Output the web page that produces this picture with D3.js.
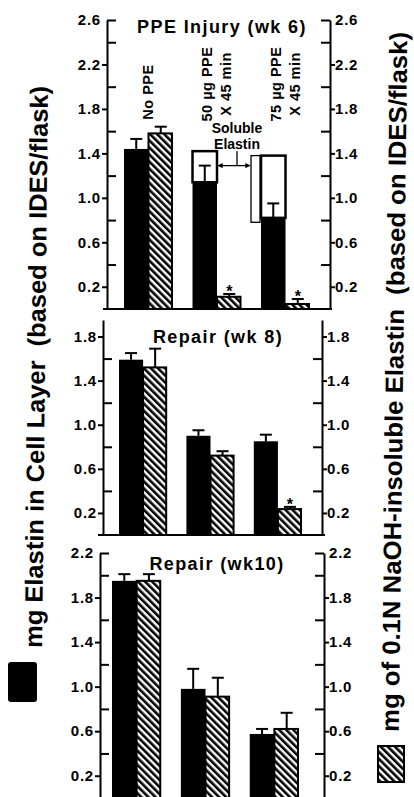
<!DOCTYPE html>
<html>
<head>
<meta charset="utf-8">
<style>
  body { margin: 0; background: #fff; }
  svg { display: block; font-family: "Liberation Sans", Arial, Helvetica, sans-serif; font-weight: bold; }
  .axis text { font-size: 15px; letter-spacing: 0.8px; font-weight: bold; fill: #000; }
  .axis path, .axis line { stroke: #000; stroke-width: 2; }
</style>
</head>
<body>
<svg id="chart" width="414" height="797"></svg>
<script src="https://cdn.jsdelivr.net/npm/d3@7"></script>
<script>
// categories
var groups = ["No PPE", "50 µg PPE|X 45 min", "75 µg PPE|X 45 min"];

// week 6 (PPE injury)
var wk6Cell = [1.44, 1.14, 0.82];
var wk6CellSE = [0.09, 0.15, 0.13];
var wk6Insol = [1.58, 0.11, 0.045];
var wk6InsolSE = [0.06, 0.025, 0.045];
var wk6Soluble = [null, 1.42, 1.38];   // top of open "soluble elastin" box
var wk6SolubleLow = [null, null, 0.78]; // bottom of the narrow offset box
var wk6Star = [false, true, true];

// week 8 (repair)
var wk8Cell = [1.59, 0.90, 0.85];
var wk8CellSE = [0.06, 0.05, 0.06];
var wk8Insol = [1.52, 0.72, 0.235];
var wk8InsolSE = [0.17, 0.04, 0.02];
var wk8Star = [false, false, true];

// week 10 (repair)
var wk10Cell = [1.95, 0.98, 0.575];
var wk10CellSE = [0.06, 0.18, 0.045];
var wk10Insol = [1.95, 0.91, 0.62];
var wk10InsolSE = [0.06, 0.17, 0.145];
var wk10Star = [false, false, false];

// tick labels
var ticks26 = [0.2, 0.6, 1.0, 1.4, 1.8, 2.2, 2.6];
var minor26 = [0.4, 0.8, 1.2, 1.6, 2.0, 2.4];
var ticks18 = [0.2, 0.6, 1.0, 1.4, 1.8];
var minor18 = [0.4, 0.8, 1.2, 1.6];
var ticks22 = [0.2, 0.6, 1.0, 1.4, 1.8, 2.2];
var minor22 = [0.4, 0.8, 1.2, 1.6, 2.0];

var bracketVal = 1.29;

var panels = [
  { title: "PPE Injury (wk 6)", titleX: 222, titleY: 33,
    cell: wk6Cell, cellSE: wk6CellSE, insol: wk6Insol, insolSE: wk6InsolSE, star: wk6Star,
    yMax: 2.6, topTick: true, major: ticks26, minor: minor26,
    left: 107, right: 330, y0: 309, yTop: 20, bandL: 124, bandR: 310, line: [103, 332] },
  { title: "Repair (wk 8)", titleX: 218, titleY: 343,
    cell: wk8Cell, cellSE: wk8CellSE, insol: wk8Insol, insolSE: wk8InsolSE, star: wk8Star,
    yMax: 1.95, topTick: false, major: ticks18, minor: minor18,
    left: 103, right: 322, y0: 535, yTop: 320, bandL: 119, bandR: 302, line: [98, 325] },
  { title: "Repair (wk10)", titleX: 217, titleY: 570,
    cell: wk10Cell, cellSE: wk10CellSE, insol: wk10Insol, insolSE: wk10InsolSE, star: wk10Star,
    yMax: 2.2, topTick: true, major: ticks22, minor: minor22,
    left: 100, right: 324, y0: 798, yTop: 553, bandL: 112, bandR: 299, line: null }
];

var svg = d3.select("#chart");
var defs = svg.append("defs");

// 斜线填充
var pat = defs.append("pattern")
  .attr("id", "hatch")
  .attr("patternUnits", "userSpaceOnUse")
  .attr("width", 5).attr("height", 5)
  .attr("patternTransform", "rotate(-45)");
pat.append("rect").attr("width", 5).attr("height", 5).attr("fill", "#fff");
pat.append("rect").attr("width", 2.6).attr("height", 5).attr("fill", "#000");

defs.append("marker")
  .attr("id", "arr")
  .attr("viewBox", "0 0 10 10")
  .attr("refX", 9).attr("refY", 5)
  .attr("markerWidth", 4).attr("markerHeight", 4)
  .attr("orient", "auto-start-reverse")
  .append("path").attr("d", "M0,0L10,5L0,10z").attr("fill", "#000");

panels.forEach(function (p, pi) {
  var g = svg.append("g");
  var y = d3.scaleLinear().domain([0, p.yMax]).range([p.y0, p.yTop]);
  var x = d3.scaleBand().domain(d3.range(groups.length))
    .range([p.bandL, p.bandR]).paddingInner(0.285);
  var xs = d3.scaleBand().domain(["cell", "insol"])
    .range([0, x.bandwidth()]).paddingInner(0);
  var fmt = d3.format(".1f");

  // 左轴: 主刻度朝外, 次刻度朝内
  var gl = g.append("g").attr("class", "axis")
    .attr("transform", "translate(" + p.left + ",0)")
    .call(d3.axisLeft(y).tickValues(p.major).tickSize(5).tickSizeOuter(0).tickPadding(1).tickFormat(fmt));
  g.append("g").attr("class", "axis")
    .attr("transform", "translate(" + p.left + ",0)")
    .call(d3.axisLeft(y).tickValues(p.minor).tickSize(-9).tickSizeOuter(0).tickFormat(""))
    .select(".domain").remove();
  gl.selectAll(".tick").filter(function (d) { return p.topTick && d === p.yMax; })
    .select("line").attr("x2", 9);

  // 右轴
  var gr = g.append("g").attr("class", "axis")
    .attr("transform", "translate(" + p.right + ",0)")
    .call(d3.axisRight(y).tickValues(p.major).tickSize(5).tickSizeOuter(0).tickPadding(0).tickFormat(fmt));
  g.append("g").attr("class", "axis")
    .attr("transform", "translate(" + p.right + ",0)")
    .call(d3.axisRight(y).tickValues(p.minor).tickSize(-9).tickSizeOuter(0).tickFormat(""))
    .select(".domain").remove();
  gr.selectAll(".tick").filter(function (d) { return p.topTick && d === p.yMax; })
    .select("line").attr("x2", -9);
  g.selectAll(".axis").attr("font-size", null).attr("font-family", null);

  if (p.line) {
    g.append("line")
      .attr("x1", p.line[0]).attr("x2", p.line[1])
      .attr("y1", y(0)).attr("y2", y(0))
      .attr("stroke", "#000").attr("stroke-width", 2);
  }

  g.append("text")
    .attr("x", p.titleX).attr("y", p.titleY)
    .attr("text-anchor", "middle")
    .attr("font-size", 18).attr("letter-spacing", 1.4)
    .text(p.title);

  groups.forEach(function (name, i) {
    var xc = x(i) + xs("cell");
    var xh = x(i) + xs("insol");
    var wc = xs.bandwidth();

    // soluble elastin box (wk 6 only)
    if (pi === 0 && wk6Soluble[i] != null) {
      g.append("rect")
        .attr("x", xc).attr("width", wc)
        .attr("y", y(wk6Soluble[i]))
        .attr("height", y(p.cell[i]) - y(wk6Soluble[i]))
        .attr("fill", "#fff").attr("stroke", "#000").attr("stroke-width", 2.5);
      if (wk6SolubleLow[i] != null) {
        g.append("rect")
          .attr("x", xc - 10).attr("width", 9)
          .attr("y", y(wk6Soluble[i]))
          .attr("height", y(wk6SolubleLow[i]) - y(wk6Soluble[i]))
          .attr("fill", "#fff").attr("stroke", "#000").attr("stroke-width", 1.3);
      }
    }

    g.append("rect")
      .attr("x", xc).attr("width", wc)
      .attr("y", y(p.cell[i])).attr("height", y(0) - y(p.cell[i]))
      .attr("fill", "#000");

    g.append("rect")
      .attr("x", xh).attr("width", xs.bandwidth() - 1)
      .attr("y", y(p.insol[i])).attr("height", y(0) - y(p.insol[i]))
      .attr("fill", "url(#hatch)").attr("stroke", "#000").attr("stroke-width", 2);

    // error bars
    [[xc, p.cell[i], p.cellSE[i]], [xh, p.insol[i], p.insolSE[i]]].forEach(function (e) {
      var cx = e[0] + wc / 2;
      g.append("line")
        .attr("x1", cx).attr("x2", cx)
        .attr("y1", y(e[1])).attr("y2", y(e[1] + e[2]))
        .attr("stroke", "#000").attr("stroke-width", 2);
      g.append("line")
        .attr("x1", cx - 6).attr("x2", cx + 6)
        .attr("y1", y(e[1] + e[2])).attr("y2", y(e[1] + e[2]))
        .attr("stroke", "#000").attr("stroke-width", 2);
    });

    if (p.star[i]) {
      g.append("text")
        .attr("x", xh + wc / 2).attr("y", y(p.insol[i] + p.insolSE[i]) + 3)
        .attr("text-anchor", "middle").attr("font-size", 16)
        .text("*");
    }

    // 组名 (竖排)
    if (pi === 0) {
      var lines = name.split("|");
      var cx = x(i) + x.bandwidth() / 2;
      var lab = g.append("text")
        .attr("transform", "translate(" + (cx - (lines.length - 1) * 10 + 5) + "," + (lines.length > 1 ? 84 : 92) + ") rotate(-90)")
        .attr("text-anchor", "middle")
        .attr("font-size", 14.5).attr("letter-spacing", 0.5);
      lines.forEach(function (l, k) {
        lab.append("tspan").attr("x", 0).attr("y", k * 19).text(l);
      });
    }
  });

  // soluble elastin annotation
  if (pi === 0) {
    var xa = x(1) + xs("cell") + xs.bandwidth();
    var xb = x(2) + xs("cell") - 10;
    var xm = (xa + xb) / 2 + 3;
    g.append("line")
      .attr("x1", xa + 1).attr("x2", xb - 1)
      .attr("y1", y(bracketVal)).attr("y2", y(bracketVal))
      .attr("stroke", "#000").attr("stroke-width", 1.3)
      .attr("marker-start", "url(#arr)").attr("marker-end", "url(#arr)");
    g.append("line")
      .attr("x1", xm).attr("x2", xm)
      .attr("y1", y(wk6Soluble[1])).attr("y2", y(bracketVal))
      .attr("stroke", "#000").attr("stroke-width", 1.3);
    var t = g.append("text").attr("text-anchor", "middle").attr("font-size", 14);
    t.append("tspan").attr("x", xm).attr("y", 133).text("Soluble");
    t.append("tspan").attr("x", xm).attr("y", 149).text("Elastin");
  }
});

// y axis titles
svg.append("text")
  .attr("transform", "translate(45,367) rotate(-89.4)")
  .attr("text-anchor", "middle")
  .attr("font-size", 25)
  .attr("textLength", 562).attr("lengthAdjust", "spacingAndGlyphs")
  .style("white-space", "pre")
  .text("mg Elastin in Cell Layer  (based on IDES/flask)");

svg.append("text")
  .attr("transform", "translate(403,382) rotate(-89.3)")
  .attr("text-anchor", "middle")
  .attr("font-size", 25)
  .attr("textLength", 700).attr("lengthAdjust", "spacingAndGlyphs")
  .style("white-space", "pre")
  .text("mg of 0.1N NaOH-insoluble Elastin  (based on IDES/flask)");

// legend swatches
svg.append("rect")
  .attr("x", 8).attr("y", 662).attr("width", 29).attr("height", 40).attr("rx", 3)
  .attr("fill", "#000");
svg.append("rect")
  .attr("x", 378).attr("y", 746).attr("width", 26).attr("height", 36)
  .attr("fill", "url(#hatch)").attr("stroke", "#000").attr("stroke-width", 2);
</script>
</body>
</html>
